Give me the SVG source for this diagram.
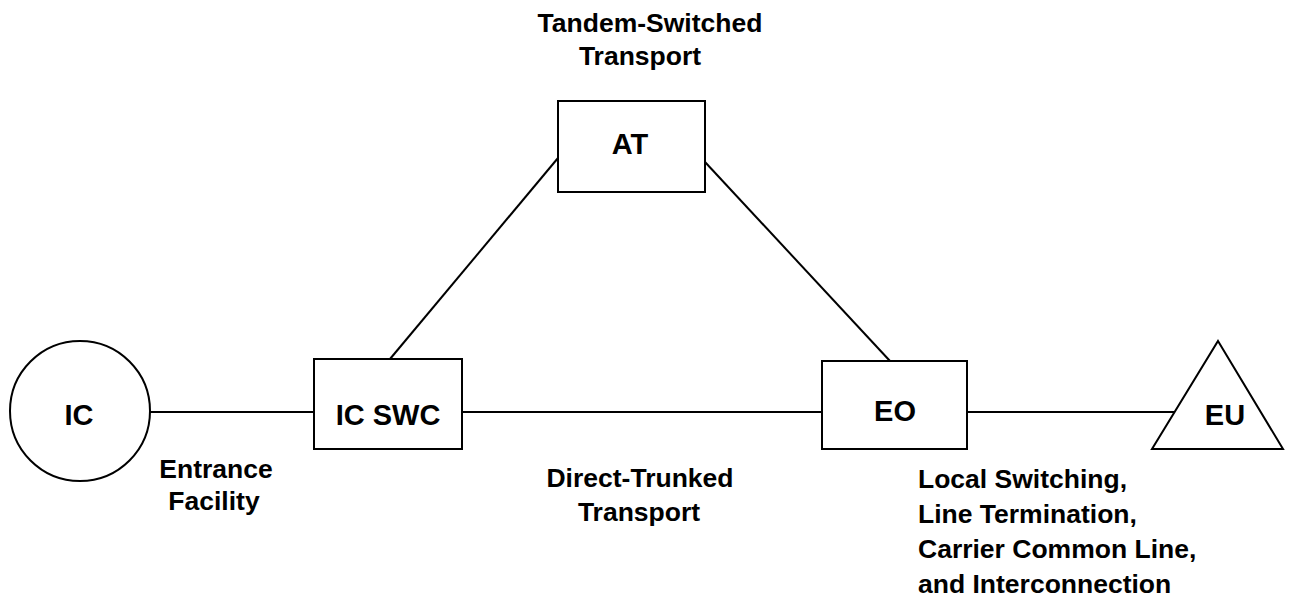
<svg xmlns="http://www.w3.org/2000/svg" width="1296" height="607" viewBox="0 0 1296 607">
<style>
.s{fill:#fff;stroke:#000;stroke-width:2}
.c{stroke:#000;stroke-width:2;fill:none}
text{font-family:"Liberation Sans",Arial,sans-serif;font-weight:bold;font-size:26.5px;fill:#000}
.n{font-size:29px}
.m{text-anchor:middle}
</style>
<rect width="1296" height="607" fill="#fff"/>
<g id="connectors">
<line class="c" x1="150" y1="412" x2="314" y2="412"/>
<line class="c" x1="462" y1="412" x2="822" y2="412"/>
<line class="c" x1="967" y1="412" x2="1190" y2="412"/>
<line class="c" x1="558" y1="158" x2="390" y2="359"/>
<line class="c" x1="705" y1="162" x2="890" y2="361"/>
</g>
<g id="ic"><circle class="s" cx="80" cy="411" r="70"/><text class="m n" x="79" y="425">IC</text></g>
<g id="icswc"><rect class="s" x="314" y="359" width="148" height="90"/><text class="m n" x="388" y="425">IC SWC</text></g>
<g id="at"><rect class="s" x="558" y="101" width="147" height="91"/><text class="m n" x="630" y="154">AT</text></g>
<g id="eo"><rect class="s" x="822" y="361" width="145" height="88"/><text class="m n" x="895" y="421">EO</text></g>
<g id="eu"><polygon class="s" points="1218,341 1283,449 1152,449"/><text class="m n" x="1225" y="425">EU</text></g>
<g id="labels">
<text class="m" x="650" y="32">Tandem-Switched</text>
<text class="m" x="640" y="65">Transport</text>
<text class="m" x="216" y="478">Entrance</text>
<text class="m" x="214" y="510">Facility</text>
<text class="m" x="640" y="487">Direct-Trunked</text>
<text class="m" x="639" y="521">Transport</text>
<text x="918" y="488">Local Switching,</text>
<text x="918" y="523">Line Termination,</text>
<text x="918" y="558">Carrier Common Line,</text>
<text x="918" y="593">and Interconnection</text>
</g>
</svg>
